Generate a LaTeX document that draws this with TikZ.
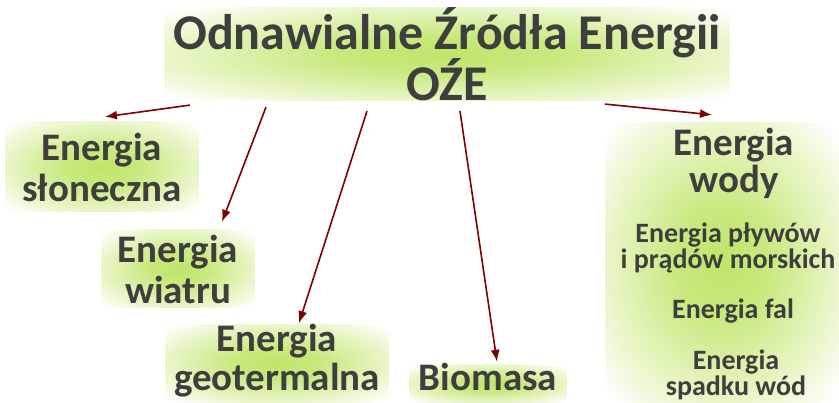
\documentclass[tikz,border=0pt]{standalone}
\usepackage{fontspec}
\setmainfont{Carlito}
\usetikzlibrary{arrows.meta}
\definecolor{ozegreen}{RGB}{192,229,104}
\definecolor{ozetext}{RGB}{62,62,62}
\definecolor{ozered}{RGB}{128,0,0}
\pgfdeclareradialshading{ozeglow}{\pgfpoint{0bp}{0bp}}{color(0bp)=(ozegreen); color(10bp)=(ozegreen!85!white); color(25bp)=(ozegreen!35!white); color(34bp)=(white); color(50bp)=(white)}

\begin{document}
\begin{tikzpicture}
      [x=1pt,y=-1pt,
        glow/.style={rectangle,shade,shading=ozeglow,inner sep=0pt,align=center,text=ozetext,
          font=\bfseries\fontsize{39}{41}\selectfont},
        small/.style={align=center,inner sep=0pt,text=ozetext,font=\bfseries\fontsize{28}{26}\selectfont},
        link/.style={ozered,line width=1.6pt,-{Latex[length=12pt,width=9pt]}}]
  \useasboundingbox (0,0) rectangle (839,403);
  \node[glow,minimum width=565pt,minimum height=92pt,font=\bfseries\fontsize{50}{45}\selectfont]
    (oze) at (447,54) {Odnawialne Źródła Energii\\OŹE};
  \node[glow,minimum width=194pt,minimum height=90pt] (sun) at (102,167) {Energia\\słoneczna};
  \node[glow,minimum width=153pt,minimum height=78pt] (wind) at (178,269) {Energia\\wiatru};
  \node[glow,minimum width=223pt,minimum height=75pt,text depth=12pt,
    font=\bfseries\fontsize{39}{39}\selectfont] (geo) at (277,363.5) {Energia\\geotermalna};
  \node[glow,minimum width=157pt,minimum height=38pt,text height=26pt,text depth=12pt] (bio) at (488,384) {Biomasa};
  \node[glow,minimum width=234pt,minimum height=280pt] (water) at (722,263) {};
  % texts inside the water box
  \node[small,font=\bfseries\fontsize{39}{37}\selectfont] (waterhead) at (734,163) {Energia\\wody};
  \node[small] (tide) at (728,248) {Energia pływów\\i prądów morskich};
  \node[small] (wave) at (733,311) {Energia fal};
  \node[small] (fall) at (736,375) {Energia\\spadku wód};
  % arrows
  \draw[link] ([shift={(-257,4)}]oze.south) -- ([shift={(3,-5)}]sun.north);
  \draw[link] ([shift={(-181,6)}]oze.south) -- ([shift={(44,-8)}]wind.north);
  \draw[link] ([shift={(-80,10)}]oze.south) -- ([shift={(22,-1)}]geo.north);
  \draw[link] ([shift={(13,10)}]oze.south) -- ([shift={(9,-3)}]bio.north);
  \draw[link] ([shift={(158,3)}]oze.south) -- ([shift={(-10,-8)}]water.north);
 \end{tikzpicture}
\end{document}
